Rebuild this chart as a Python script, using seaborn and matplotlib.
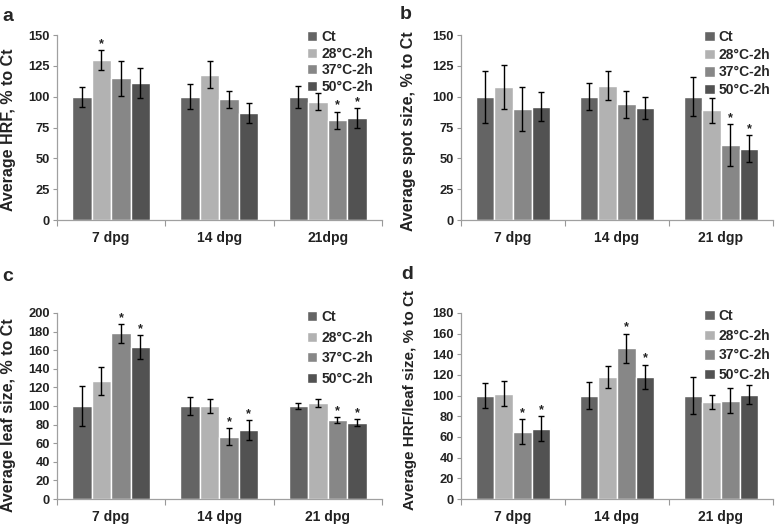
import seaborn as sns
import pandas as pd
import matplotlib.pyplot as plt
from matplotlib.ticker import MultipleLocator

sns.set_style('ticks')
plt.rcParams['font.family'] = ['Liberation Sans', 'DejaVu Sans']
plt.rcParams['font.weight'] = 'bold'

treatments = ['Ct', '28°C-2h', '37°C-2h', '50°C-2h']
colors = ['#646464', '#b2b2b2', '#878787', '#525252']

# panel a - HRF
days_a = ['7 dpg', '14 dpg', '21dpg']
hrf_mean = [[100, 130, 115, 111], [100, 118, 98, 87], [100, 96, 81, 83]]
hrf_err = [[8, 8, 14, 12], [10, 11, 7, 8], [9, 7, 7, 8]]
hrf_star = [[0, 1, 0, 0], [0, 0, 0, 0], [0, 0, 1, 1]]

# panel b - spot size
days_b = ['7 dpg', '14 dpg', '21 dgp']
spot_mean = [[100, 108, 90, 92], [100, 109, 94, 91], [100, 89, 61, 58]]
spot_err = [[21, 18, 18, 12], [11, 12, 11, 9], [16, 10, 17, 11]]
spot_star = [[0, 0, 0, 0], [0, 0, 0, 0], [0, 0, 1, 1]]

# panel c - leaf size
days_c = ['7 dpg', '14 dpg', '21 dpg']
leaf_mean = [[100, 127, 178, 163], [100, 100, 67, 74], [100, 103, 85, 82]]
leaf_err = [[22, 15, 10, 13], [10, 7, 9, 11], [3, 4, 3, 4]]
leaf_star = [[0, 0, 1, 1], [0, 0, 1, 1], [0, 0, 1, 1]]

# panel d - HRF / leaf size
days_d = ['7 dpg', '14 dpg', '21 dpg']
ratio_mean = [[100, 102, 65, 68], [100, 118, 146, 118], [100, 94, 95, 101]]
ratio_err = [[12, 12, 12, 12], [13, 11, 14, 12], [18, 7, 12, 9]]
ratio_star = [[0, 0, 1, 1], [0, 0, 1, 1], [0, 0, 0, 0]]


def make_df(days, mean, err, star):
    rows = []
    for i, d in enumerate(days):
        for j, t in enumerate(treatments):
            rows.append({'day': d, 'treatment': t, 'value': mean[i][j],
                         'err': err[i][j], 'star': star[i][j]})
    return pd.DataFrame(rows)


fig = plt.figure(figsize=(7.77, 5.24), dpi=100)
# letter, days, means, errors, stars, ylabel, ymax, step, axes rect,
# ylabel x/y (axes coords), legend anchor, legend row spacing, ylabel size, letter xy
panels = [
    ('a', days_a, hrf_mean, hrf_err, hrf_star, 'Average HRF, % to Ct', 150, 25,
     [0.0734, 0.580, 0.418, 0.353], -0.126, 0.49, (0.99, 1.057), 0.18, 11.5, (0.003, 0.985)),
    ('b', days_b, spot_mean, spot_err, spot_star, 'Average spot size, % to Ct', 150, 25,
     [0.5933, 0.580, 0.4015, 0.353], -0.145, 0.48, (1.01, 1.057), 0.26, 11.5, (0.514, 0.988)),
    ('c', days_c, leaf_mean, leaf_err, leaf_star, 'Average leaf size, % to Ct', 200, 20,
     [0.0734, 0.0477, 0.418, 0.355], -0.126, 0.45, (0.99, 1.045), 0.47, 11.5, (0.003, 0.488)),
    ('d', days_d, ratio_mean, ratio_err, ratio_star, 'Average HRF/leaf size, % to Ct', 180, 20,
     [0.5933, 0.0477, 0.4015, 0.355], -0.141, 0.53, (1.01, 1.05), 0.4, 11.0, (0.516, 0.492)),
]

for (letter, days, mean, err, star, ylab, ymax, step, rect,
     lx, ly, lanchor, lsp, ysize, lxy) in panels:
    df = make_df(days, mean, err, star)
    ax = fig.add_axes(rect)
    sns.barplot(data=df, x='day', y='value', hue='treatment', palette=colors,
                width=0.72, gap=0, errorbar=None, saturation=1, ax=ax)
    bar_groups = list(ax.containers)
    for j, cont in enumerate(bar_groups):
        sub = df[df['treatment'] == treatments[j]].reset_index(drop=True)
        for k, bar in enumerate(cont):
            xc = bar.get_x() + bar.get_width() / 2
            ax.errorbar(xc, sub['value'][k], yerr=sub['err'][k], color='black',
                        lw=1, capsize=2.5, capthick=1)
            if sub['star'][k]:
                ax.text(xc, sub['value'][k] + sub['err'][k], '*',
                        ha='center', va='bottom', fontsize=9, color='#222222')
    ax.set_ylim(0, ymax)
    ax.set_xlim(-0.5, 2.5)
    ax.yaxis.set_major_locator(MultipleLocator(step))
    ax.set_xlabel('')
    ax.set_ylabel(ylab, fontsize=ysize, fontweight='bold', color='#222222')
    ax.yaxis.set_label_coords(lx, ly)
    ax.tick_params(axis='y', labelsize=9.3, length=3, width=0.8, color='#999999',
                   pad=2, labelcolor='#222222')
    ax.tick_params(axis='x', which='major', labelsize=10, length=0, pad=8,
                   labelcolor='#222222')
    ax.set_xticks([-0.5, 0.5, 1.5, 2.5], minor=True)
    ax.tick_params(axis='x', which='minor', length=4, width=0.8, color='#999999')
    for lab in ax.get_xticklabels() + ax.get_yticklabels():
        lab.set_fontweight('bold')
    sns.despine(ax=ax)
    for s in ['left', 'bottom']:
        ax.spines[s].set_color('#a0a0a0')
        ax.spines[s].set_linewidth(0.9)
    ax.legend(loc='upper right', bbox_to_anchor=lanchor, frameon=False,
              handlelength=0.75, handleheight=0.75, handletextpad=0.3,
              labelspacing=lsp, prop={'size': 10, 'weight': 'bold'},
              borderaxespad=0)
    fig.text(lxy[0], lxy[1], letter, fontsize=14, fontweight='bold',
             va='top', ha='left')

fig.savefig('out.png', dpi=100)
